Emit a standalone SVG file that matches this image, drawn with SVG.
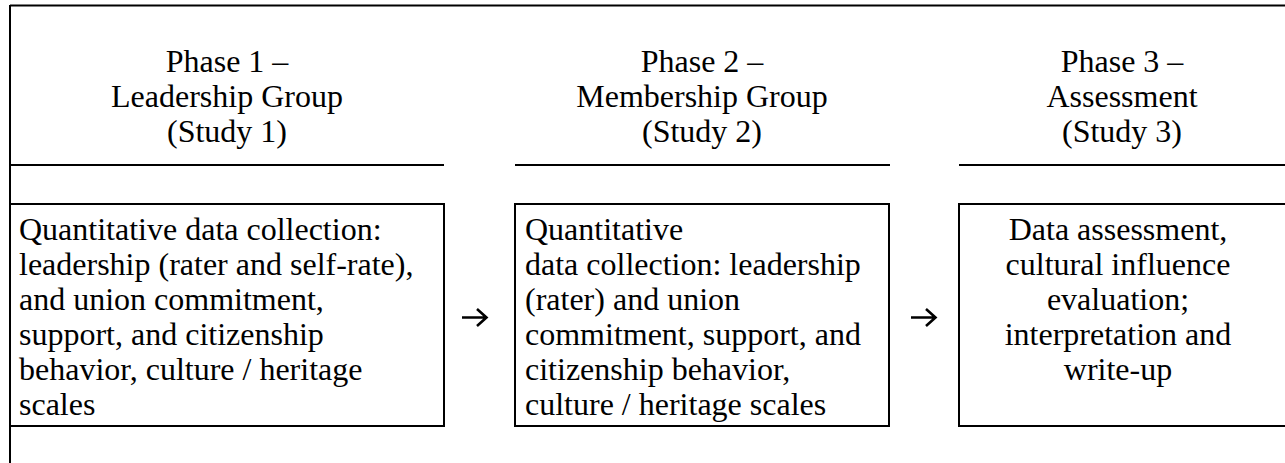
<svg xmlns="http://www.w3.org/2000/svg" width="1285" height="463" viewBox="0 0 1285 463">
  <style>
    .rule { stroke: #000; stroke-width: 2; fill: none; }
    .box { stroke: #000; stroke-width: 2; fill: #fff; }
    .c { text-anchor: middle; }
    .arrow { stroke: #000; stroke-width: 2.6; fill: none; stroke-linecap: butt; }
  </style>

  <!-- frame -->
  <g id="frame">
    <line class="rule" x1="10" y1="5.5" x2="1285" y2="5.5"/>
    <line class="rule" x1="10" y1="5" x2="10" y2="463"/>
  </g>

  <g font-family="'Liberation Serif', 'Times New Roman', Times, serif" font-size="32" fill="#000">
    <!-- phase headers -->
    <g id="phase1-header">
      <text class="c" x="227" y="72">Phase 1 –</text>
      <text class="c" x="227" y="107">Leadership Group</text>
      <text class="c" x="227" y="142">(Study 1)</text>
      <line class="rule" x1="10" y1="165" x2="444" y2="165"/>
    </g>
    <g id="phase2-header">
      <text class="c" x="702" y="72">Phase 2 –</text>
      <text class="c" x="702" y="107">Membership Group</text>
      <text class="c" x="702" y="142">(Study 2)</text>
      <line class="rule" x1="515" y1="165" x2="890" y2="165"/>
    </g>
    <g id="phase3-header">
      <text class="c" x="1122" y="72">Phase 3 –</text>
      <text class="c" x="1122" y="107">Assessment</text>
      <text class="c" x="1122" y="142">(Study 3)</text>
      <line class="rule" x1="959" y1="165" x2="1285" y2="165"/>
    </g>

    <!-- study boxes -->
    <g id="study1">
      <rect class="box" x="10" y="204" width="434" height="222"/>
      <text x="19" y="240">Quantitative data collection:</text>
      <text x="19" y="275">leadership (rater and self-rate),</text>
      <text x="19" y="310">and union commitment,</text>
      <text x="19" y="345">support, and citizenship</text>
      <text x="19" y="380">behavior, culture / heritage</text>
      <text x="19" y="415">scales</text>
    </g>
    <g id="study2">
      <rect class="box" x="515" y="204" width="374" height="222"/>
      <text x="525" y="240">Quantitative</text>
      <text x="525" y="275">data collection: leadership</text>
      <text x="525" y="310">(rater) and union</text>
      <text x="525" y="345">commitment, support, and</text>
      <text x="525" y="380">citizenship behavior,</text>
      <text x="525" y="415">culture / heritage scales</text>
    </g>
    <g id="study3">
      <rect class="box" x="959" y="204" width="340" height="222"/>
      <text class="c" x="1118" y="240">Data assessment,</text>
      <text class="c" x="1118" y="275">cultural influence</text>
      <text class="c" x="1118" y="310">evaluation;</text>
      <text class="c" x="1118" y="345">interpretation and</text>
      <text class="c" x="1118" y="380">write-up</text>
    </g>
  </g>

  <!-- connectors -->
  <g id="connectors">
    <path class="arrow" d="M462 317.5 H486 M477 309 L486.5 317.5 L477 326"/>
    <path class="arrow" d="M911 317.5 H935 M926 309 L935.5 317.5 L926 326"/>
  </g>
</svg>
